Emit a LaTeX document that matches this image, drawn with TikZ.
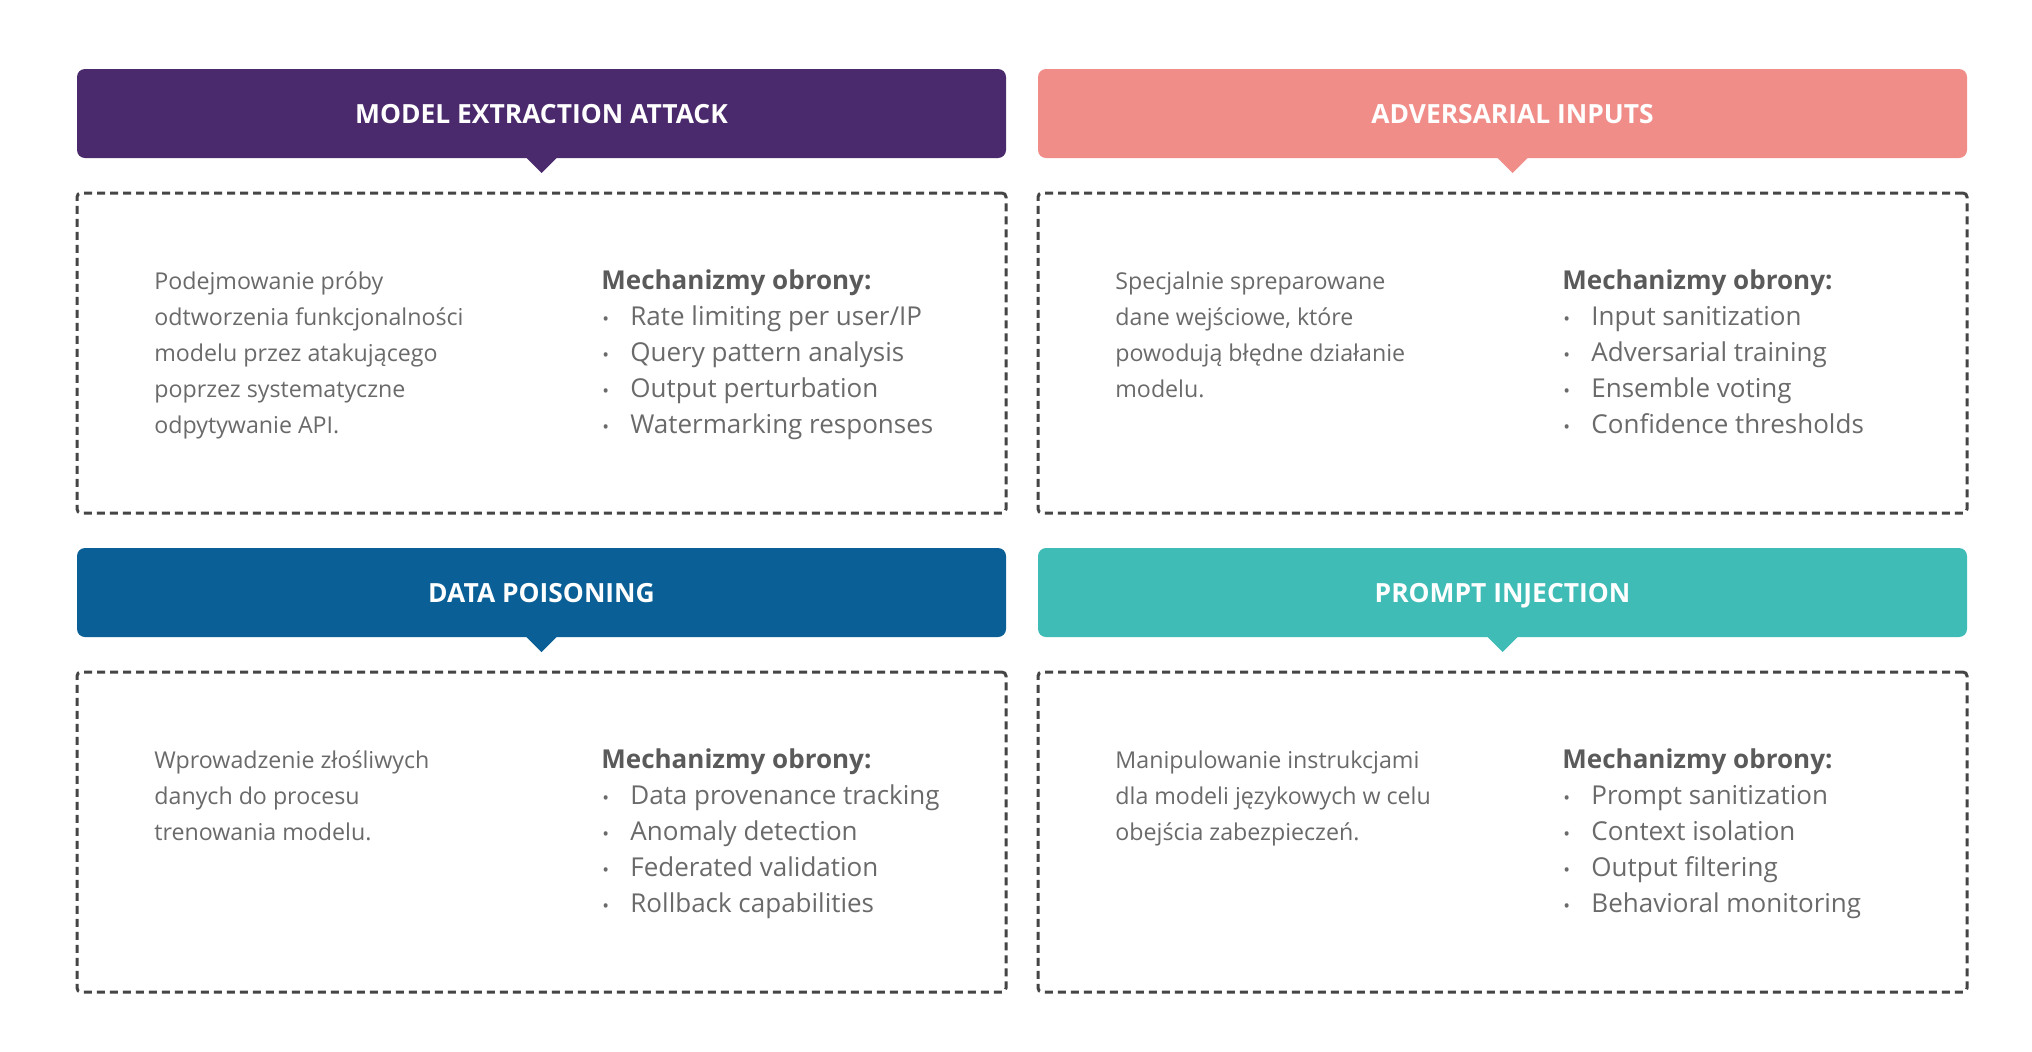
\documentclass[tikz,border=0pt]{standalone}
\usepackage{fontspec}
\setmainfont{Open Sans}
\usetikzlibrary{calc}
\definecolor{cpurple}{HTML}{4A2A6D}
\definecolor{csalmon}{HTML}{F08D89}
\definecolor{cblue}{HTML}{0A6096}
\definecolor{cteal}{HTML}{40BCB7}
\definecolor{ctext}{HTML}{6A6A6A}
\definecolor{chead}{HTML}{5A5A5A}
\definecolor{cdash}{HTML}{454545}
\tikzset{
 header/.style={rectangle, rounded corners=4pt, minimum width=464.5pt, minimum height=44.5pt, inner sep=0pt},
 htext/.style={inner sep=0pt, text=white, text height=9.5pt, text depth=0pt, font=\bfseries\fontsize{13.2}{15}\selectfont},
 dbox/.style={rectangle, draw=cdash, line width=1.5pt, dash pattern=on 4pt off 2.5pt, rounded corners=2pt, minimum width=464.5pt, minimum height=160pt, inner sep=0pt},
 desc/.style={anchor=base west, inner sep=0pt, text=ctext, font=\fontsize{11.6}{14}\selectfont},
 mech/.style={anchor=base west, inner sep=0pt, text=chead, font=\bfseries\fontsize{13}{15}\selectfont},
 itm/.style={anchor=base west, inner sep=0pt, text=ctext, font=\fontsize{13}{15}\selectfont},
}
% #1 x-offset, #2 y-offset, #3 id, #4 colour, #5 title, #6 description lines, #7 items, #8 title shift
\newcommand\mypanel[8]{%
 \node[header, fill=#4] (#3h) at ({#1+541.5},{#2+113.5}) {};
 \node[htext] (#3t) at ({#1+541.5+#8},{#2+113.5}) {#5};
 \coordinate (#3p) at ({#1+541.5+#8},{#2+158});
 \fill[#4] ($(#3p)+(-16,-1)$) -- ($(#3p)+(0,15)$) -- ($(#3p)+(16,-1)$) -- cycle;
 \node[dbox] (#3b) at ({#1+541.5},{#2+353}) {};
 \foreach \l [count=\i] in {#6} \node[desc] (#3d\i) at ({#1+154},{#2+289+(\i-1)*36}) {\l};
 \node[mech] (#3m) at ({#1+601},{#2+289}) {Mechanizmy obrony:};
 \foreach \l [count=\i] in {#7} \node[itm] (#3i\i) at ({#1+601},{#2+289+\i*36}) {\makebox[14.5pt][l]{\kern0.5pt\small •}\l};
}
\begin{document}
\begin{tikzpicture}[x=0.5pt,y=-0.5pt]
\useasboundingbox[fill=white] (0,0) rectangle (2032,1051);
\mypanel{0}{0}{pa}{cpurple}{MODEL EXTRACTION ATTACK}
 {Podejmowanie próby,odtworzenia funkcjonalności,modelu przez atakującego,poprzez systematyczne,odpytywanie API.}
 {Rate limiting per user/IP,Query pattern analysis,Output perturbation,Watermarking responses}{0}
\mypanel{961}{0}{pb}{csalmon}{ADVERSARIAL INPUTS}
 {Specjalnie spreparowane,{dane wejściowe, które},powodują błędne działanie,modelu.}
 {Input sanitization,Adversarial training,Ensemble voting,Confidence thresholds}{10}
\mypanel{0}{479}{pc}{cblue}{DATA POISONING}
 {Wprowadzenie złośliwych,danych do procesu,trenowania modelu.}
 {Data provenance tracking,Anomaly detection,Federated validation,Rollback capabilities}{0}
\mypanel{961}{479}{pd}{cteal}{PROMPT INJECTION}
 {Manipulowanie instrukcjami,dla modeli językowych w celu,obejścia zabezpieczeń.}
 {Prompt sanitization,Context isolation,Output filtering,Behavioral monitoring}{0}
\end{tikzpicture}
\end{document}
